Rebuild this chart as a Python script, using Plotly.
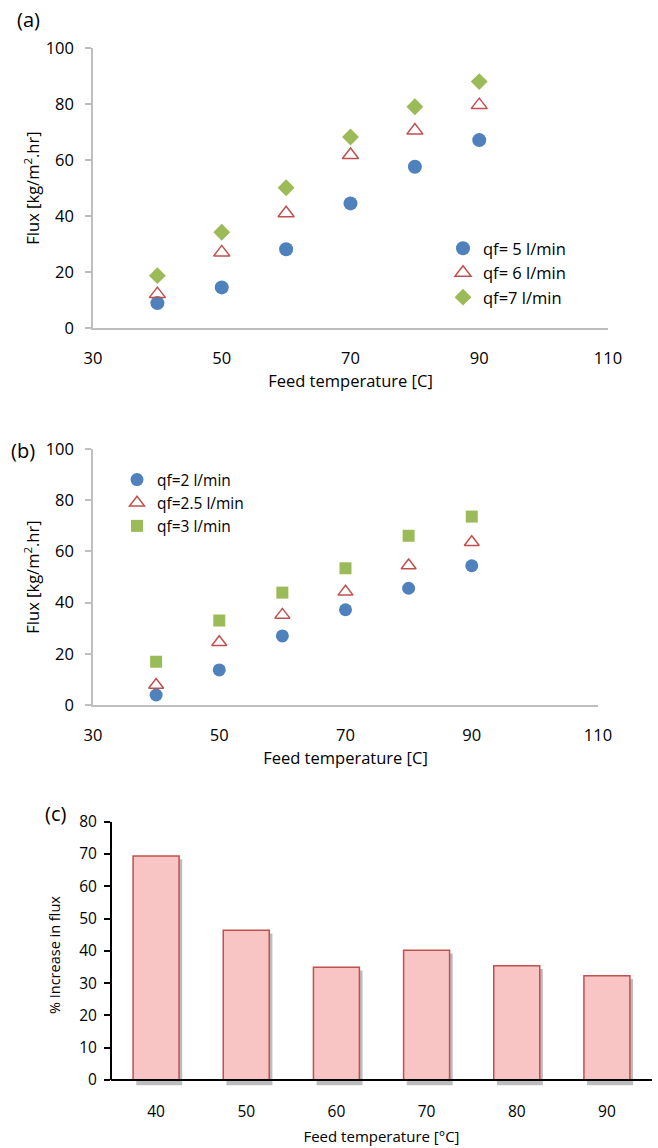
import plotly.graph_objects as go

# ---- data ----
temp = [40, 50, 60, 70, 80, 90]

# panel (a): flux at three feed flow rates
flux_a_q5 = [8.9, 14.5, 28.1, 44.5, 57.6, 67.1]
flux_a_q6 = [12.1, 27.0, 41.0, 61.8, 70.5, 79.6]
flux_a_q7 = [18.7, 34.2, 50.1, 68.2, 79.0, 88.0]

# panel (b): flux at lower feed flow rates
flux_b_q2 = [3.9, 13.7, 27.0, 37.2, 45.6, 54.4]
flux_b_q25 = [7.8, 24.5, 35.2, 44.2, 54.5, 63.6]
flux_b_q3 = [16.9, 33.0, 43.9, 53.4, 66.1, 73.6]

# panel (c): % increase in flux
temp_labels = ["40", "50", "60", "70", "80", "90"]
pct_increase = [69.4, 46.4, 34.9, 40.2, 35.4, 32.3]

W, H = 658, 1148
FONT = "Open Sans"
BLUE, RED, GREEN = "#4f81bd", "#c0504d", "#9bbb59"
GREY = "#bfbfbf"


def px_x(p):
    return p / W


def px_y(p):
    return 1 - p / H


fig = go.Figure()

# ---- panel (a) ----
fig.add_trace(go.Scatter(x=temp, y=flux_a_q5, mode="markers", name="qf= 5 l/min",
                         marker=dict(symbol="circle", size=14, color=BLUE),
                         xaxis="x", yaxis="y", legend="legend"))
fig.add_trace(go.Scatter(x=temp, y=flux_a_q6, mode="markers", name="qf= 6 l/min",
                         marker=dict(symbol="triangle-up-open", size=14, color=RED,
                                     line=dict(width=1.5, color=RED)),
                         xaxis="x", yaxis="y", legend="legend"))
fig.add_trace(go.Scatter(x=temp, y=flux_a_q7, mode="markers", name="qf=7 l/min",
                         marker=dict(symbol="diamond", size=13, color=GREEN),
                         xaxis="x", yaxis="y", legend="legend"))

# ---- panel (b) ----
fig.add_trace(go.Scatter(x=temp, y=flux_b_q2, mode="markers", name="qf=2 l/min",
                         marker=dict(symbol="circle", size=13, color=BLUE),
                         xaxis="x2", yaxis="y2", legend="legend2"))
fig.add_trace(go.Scatter(x=temp, y=flux_b_q25, mode="markers", name="qf=2.5 l/min",
                         marker=dict(symbol="triangle-up-open", size=13, color=RED,
                                     line=dict(width=1.5, color=RED)),
                         xaxis="x2", yaxis="y2", legend="legend2"))
fig.add_trace(go.Scatter(x=temp, y=flux_b_q3, mode="markers", name="qf=3 l/min",
                         marker=dict(symbol="square", size=12, color=GREEN),
                         xaxis="x2", yaxis="y2", legend="legend2"))

# ---- panel (c): drop shadow then bars ----
BAR_W = 0.51
fig.add_trace(go.Bar(x=temp_labels, y=[v + 0.6 for v in pct_increase], base=-1.6,
                     width=BAR_W, offset=-BAR_W / 2 + 0.035,
                     marker=dict(color="rgba(90,90,90,0.4)", line=dict(width=0)),
                     xaxis="x3", yaxis="y3", showlegend=False, hoverinfo="skip"))
fig.add_trace(go.Bar(x=temp_labels, y=pct_increase, width=BAR_W, offset=-BAR_W / 2,
                     marker=dict(color="#f8c4c4", line=dict(width=1.5, color=RED)),
                     xaxis="x3", yaxis="y3", showlegend=False))

tick_font = dict(family=FONT, size=16.5, color="#000000")
title_font = dict(family=FONT, size=16.5, color="#000000")

scatter_x = dict(range=[30, 110], tick0=30, dtick=20, showgrid=False, zeroline=False,
                 showline=True, linecolor=GREY, linewidth=1.5, ticks="",
                 tickfont=tick_font, automargin=False)
scatter_y = dict(range=[0, 100], dtick=20, showgrid=False, zeroline=False,
                 showline=True, linecolor=GREY, linewidth=1.5, ticks="outside",
                 ticklen=6, tickwidth=1.5, tickcolor=GREY, tickfont=tick_font,
                 ticklabelstandoff=8, automargin=False)

fig.update_layout(
    width=W, height=H,
    margin=dict(l=0, r=0, t=0, b=0),
    paper_bgcolor="white", plot_bgcolor="white",
    font=dict(family=FONT, color="#000000"),
    barmode="overlay",
    xaxis=dict(scatter_x, domain=[px_x(93), px_x(608)], anchor="y", ticklabelstandoff=14,
               title=dict(text="Feed temperature [C]", font=title_font, standoff=6)),
    yaxis=dict(scatter_y, domain=[px_y(328), px_y(48)], anchor="x",
               title=dict(text="Flux [kg/m<sup>2</sup>.hr]", font=title_font, standoff=2)),
    xaxis2=dict(scatter_x, domain=[px_x(93), px_x(598)], anchor="y2", ticklabelstandoff=14,
                title=dict(text="Feed temperature [C]", font=title_font, standoff=0)),
    yaxis2=dict(scatter_y, domain=[px_y(705), px_y(449)], anchor="x2",
                title=dict(text="Flux [kg/m<sup>2</sup>.hr]", font=title_font, standoff=2)),
    xaxis3=dict(domain=[px_x(111), px_x(652)], anchor="y3", type="category",
                range=[-0.5, 5.5], showgrid=False, zeroline=False, showline=False,
                ticks="", tickfont=dict(family=FONT, size=15.5, color="#000000"),
                ticklabelstandoff=12, automargin=False,
                title=dict(text="Feed temperature [°C]",
                           font=dict(family=FONT, size=15, color="#000000"), standoff=10)),
    yaxis3=dict(domain=[px_y(1088.4), px_y(821.7)], anchor="x3", range=[-2.6, 80],
                tick0=0, dtick=10, showgrid=False, zeroline=False, showline=False,
                ticks="outside", ticklen=6, tickwidth=2, tickcolor="#000000",
                tickfont=dict(family=FONT, size=15.5, color="#000000"), ticklabelstandoff=4,
                automargin=False,
                title=dict(text="% Increase in flux",
                           font=dict(family=FONT, size=14.5, color="#000000"), standoff=15)),
    legend=dict(x=px_x(443), y=px_y(231), xanchor="left", yanchor="top",
                bgcolor="rgba(0,0,0,0)", font=dict(family=FONT, size=16.5),
                itemsizing="trace"),
    legend2=dict(x=px_x(117), y=px_y(463), xanchor="left", yanchor="top",
                 bgcolor="rgba(0,0,0,0)", font=dict(family=FONT, size=15.5),
                 itemsizing="trace"),
    shapes=[
        # axis lines of panel (c) drawn at value 0 so the shadow can show beneath
        dict(type="line", xref="x3 domain", yref="y3", x0=0, x1=1, y0=0, y1=0,
             line=dict(color="#000000", width=2)),
        dict(type="line", xref="x3 domain", yref="y3", x0=0, x1=0, y0=0, y1=80,
             line=dict(color="#000000", width=2)),
    ],
    annotations=[
        dict(text="(a)", x=px_x(28), y=px_y(20), xref="paper", yref="paper",
             xanchor="center", yanchor="middle", showarrow=False,
             font=dict(family=FONT, size=20)),
        dict(text="(b)", x=px_x(23), y=px_y(450), xref="paper", yref="paper",
             xanchor="center", yanchor="middle", showarrow=False,
             font=dict(family=FONT, size=20)),
        dict(text="(c)", x=px_x(55), y=px_y(814), xref="paper", yref="paper",
             xanchor="center", yanchor="middle", showarrow=False,
             font=dict(family=FONT, size=20)),
    ],
)

fig.write_html("out.html")
